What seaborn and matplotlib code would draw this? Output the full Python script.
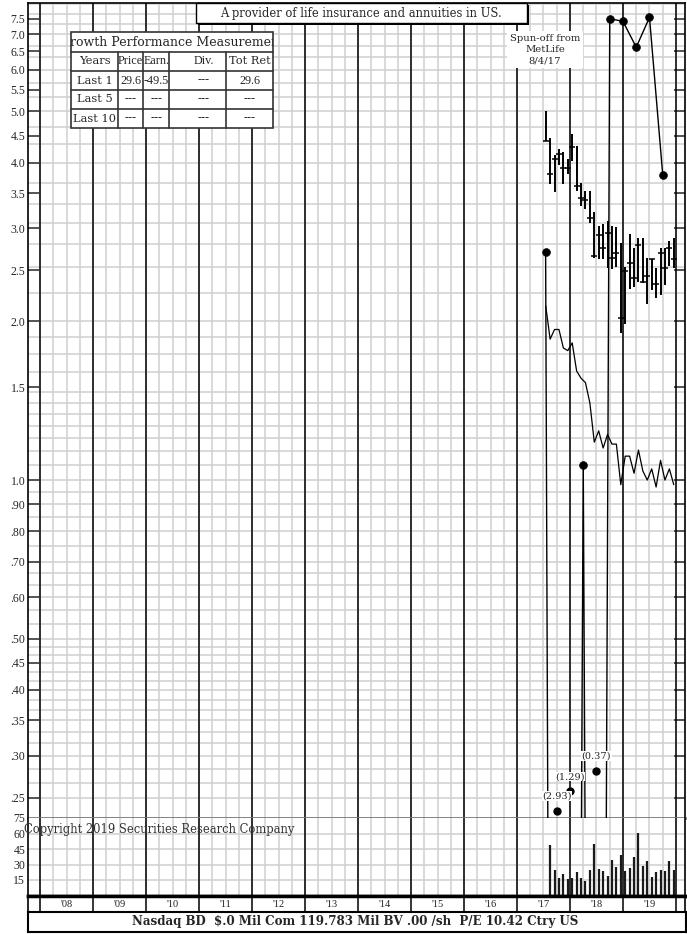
import numpy as np
import pandas as pd
import matplotlib
matplotlib.use("Agg")
import matplotlib.pyplot as plt
import seaborn as sns
from matplotlib.patches import Rectangle
from matplotlib.ticker import NullLocator, FixedLocator

sns.set_theme(style="white")
plt.rcParams["font.family"] = ["Liberation Serif", "DejaVu Serif"]
WIDE = "DejaVu Serif"   # wider serif for the letter-spaced notes

# monthly price bars, Jul 2017 .. Dec 2019
price_months = pd.period_range("2017-07", "2019-12", freq="M")
price_high = [5.01, 4.46, 4.13, 4.24, 4.19, 4.06, 4.53, 4.30, 3.66, 3.53,
              3.53, 3.23, 3.03, 3.06, 3.10, 3.03, 3.02, 2.81, 2.53, 2.93,
              2.75, 2.88, 2.88, 2.64, 2.63, 2.52, 2.76, 2.75, 2.84, 2.88]
price_low = [4.39, 3.65, 3.52, 3.96, 3.64, 3.81, 4.03, 3.53, 3.31, 3.27,
             3.07, 2.64, 2.63, 2.62, 2.52, 2.51, 2.54, 1.90, 1.98, 2.30,
             2.32, 2.37, 2.36, 2.16, 2.29, 2.21, 2.24, 2.34, 2.55, 2.52]
price_close = [4.40, 3.81, 4.06, 4.15, 3.91, 3.90, 4.28, 3.61, 3.42, 3.39,
               3.14, 2.66, 2.91, 2.76, 2.94, 2.64, 2.69, 2.03, 2.49, 2.58,
               2.42, 2.79, 2.37, 2.44, 2.62, 2.35, 2.70, 2.52, 2.75, 2.63]
rel_line = [2.14, 1.85, 1.93, 1.93, 1.78, 1.76, 1.82, 1.61, 1.56, 1.53,
            1.40, 1.18, 1.24, 1.15, 1.22, 1.17, 1.17, 0.98, 1.11, 1.11,
            1.03, 1.14, 1.04, 1.00, 1.05, 0.97, 1.09, 1.00, 1.05, 0.98]

# quarterly earnings (negative ones run off the bottom)
earn_x = [2017.54, 2017.75, 2018.0, 2018.25, 2018.5, 2018.75,
          2019.0, 2019.25, 2019.5, 2019.75]
earnings = [2.71, -2.93, -1.29, 1.07, -0.37, 7.50, 7.41, 6.62, 7.54, 3.79]

# monthly volume, Aug 2017 .. Dec 2019
vol_months = pd.period_range("2017-08", "2019-12", freq="M")
volume = [48.9, 24.4, 16.6, 20.5, 15.7, 17.2, 22.4, 17.2, 14.3, 24.7,
          49.6, 25.4, 23.7, 18.9, 34.4, 27.9, 39.2, 23.7, 26.3, 37.6,
          60.8, 28.8, 33.4, 17.9, 23.0, 24.7, 23.7, 33.4, 24.7]

ytick_vals = [7.5, 7.0, 6.5, 6.0, 5.5, 5.0, 4.5, 4.0, 3.5, 3.0, 2.5, 2.0, 1.5,
              1.0, 0.9, 0.8, 0.7, 0.6, 0.5, 0.45, 0.4, 0.35, 0.3, 0.25]
ytick_labels = ["7.5", "7.0", "6.5", "6.0", "5.5", "5.0", "4.5", "4.0", "3.5",
                "3.0", "2.5", "2.0", "1.5", "1.0", ".90", ".80", ".70", ".60",
                ".50", ".45", ".40", ".35", ".30", ".25"]
year_labels = ["'08", "'09", "'10", "'11", "'12", "'13", "'14", "'15", "'16",
               "'17", "'18", "'19"]
table_header = ["Years", "Price", "Earn.", "Div.", "Tot Ret"]
table_rows = [["Last 1", "29.6", "-49.5", "---", "29.6"],
              ["Last 5", "---", "---", "---", "---"],
              ["Last 10", "---", "---", "---", "---"]]


def dec_year(periods):
    return np.array([p.year + (p.month - 0.5) / 12 for p in periods])


def chart_grid():
    # SRC-style ratio grid: the step widens as the price rises
    parts = [(0.25, 0.5, 1 / 60), (0.5, 0.7, 1 / 30), (0.7, 1.0, 0.05),
             (1.0, 22 / 15, 1 / 15), (22 / 15, 2.0, 2 / 15),
             (2.0, 10 / 3, 4 / 15), (10 / 3, 8.0, 1 / 3)]
    vals = []
    for lo, hi, step in parts:
        n = int(round((hi - lo) / step))
        vals += [lo + k * step for k in range(n + 1)]
    return sorted(set(round(v, 5) for v in vals))


px = dec_year(price_months)
vx = dec_year(vol_months)

W, H = 687, 934
XMIN, XMAX = 2007.773, 2020.17
GRID = "#d0d0d0"


def rect(x0, y0, x1, y1):
    return [x0 / W, 1 - y1 / H, (x1 - x0) / W, (y1 - y0) / H]


fig = plt.figure(figsize=(W / 100, H / 100), dpi=100)
fig.patch.set_facecolor("white")

ax = fig.add_axes(rect(28, 3, 685, 818))
axv = fig.add_axes(rect(28, 818, 685, 895.5))
axy = fig.add_axes(rect(28, 895.5, 685, 912))
axb = fig.add_axes(rect(28, 912, 686, 932))

quarters = np.arange(2007.75, 2020.3, 0.25)
years = np.arange(2008, 2021)

# ---- price panel
ax.set_yscale("log")
ax.set_xlim(XMIN, XMAX)
ax.set_ylim(0.2286, 8.03)
for v in chart_grid():
    ax.axhline(v, color=GRID, lw=1.1, zorder=0)
for q in quarters:
    ax.axvline(q, color=GRID, lw=1.1, zorder=0)
for y in years:
    ax.axvline(y, color="black", lw=1.1, zorder=1)

ax.vlines(px, price_low, price_high, color="black", lw=1.4, zorder=3)
ax.plot(px, price_close, ls="none", marker="_", ms=5, mew=1.1,
        color="black", zorder=4)
sns.lineplot(x=px, y=rel_line, ax=ax, color="black", lw=0.9,
             estimator=None, sort=False, zorder=3)

earn = np.array(earnings)
earn_plot = np.where(earn > 0, earn, 1e-5)
ax.plot(earn_x, earn_plot, color="black", lw=1.0, zorder=3)
pos = earn > 0
sns.scatterplot(x=np.array(earn_x)[pos], y=earn[pos], ax=ax, color="black",
                s=32, edgecolor="black", zorder=5)

# labels for negative quarters near the bottom
neg_idx = np.where(~pos)[0]
neg_levels = [0.236, 0.257, 0.281]
for i, lv in zip(neg_idx, neg_levels):
    ax.plot(earn_x[i], lv, "o", color="black", ms=5, zorder=5)
    ax.text(earn_x[i], lv * 1.045, f"({abs(earn[i]):.2f})", ha="center",
            va="bottom", fontsize=7, family=WIDE, zorder=6,
            bbox=dict(facecolor="white", edgecolor="none", pad=0.3))

ax.text(2017.53, 6.55, "Spun-off from\nMetLife\n8/4/17", ha="center",
        va="center", fontsize=7.2, family=WIDE, linespacing=1.3, zorder=6,
        bbox=dict(facecolor="white", edgecolor="none", pad=2))

ax.yaxis.set_minor_locator(NullLocator())
ax.yaxis.set_major_locator(FixedLocator(ytick_vals))
ax.set_yticklabels(ytick_labels)
ax.set_xticks([])
ax.tick_params(axis="y", direction="in", length=8, width=1.4, color="#555555",
               left=True, right=True, labelsize=8.5, pad=2)
for s in ax.spines.values():
    s.set_color("black")
    s.set_linewidth(1.2)
ax.spines["bottom"].set_color("#777777")
ax.spines["bottom"].set_linewidth(2)

# ---- volume panel
axv.set_xlim(XMIN, XMAX)
axv.set_ylim(0, 75)
for v in [15, 30, 45, 60]:
    axv.axhline(v, color=GRID, lw=1.1, zorder=0)
for q in quarters:
    axv.axvline(q, color=GRID, lw=1.1, zorder=0)
for y in years:
    axv.axvline(y, color="black", lw=1.1, zorder=1)
axv.vlines(vx, 0, volume, color="#1a1a1a", lw=1.6, zorder=3)
axv.set_yticks([15, 30, 45, 60, 75])
axv.set_yticklabels(["15", "30", "45", "60", "75"])
axv.set_xticks([])
axv.tick_params(axis="y", direction="in", length=5, width=1, color="#555555",
                labelsize=8.5, pad=2)
for s in axv.spines.values():
    s.set_color("black")
    s.set_linewidth(1.2)
axv.spines["top"].set_visible(False)
axv.spines["bottom"].set_linewidth(2.5)

# ---- year band
axy.set_xlim(XMIN, XMAX)
axy.set_ylim(0, 1)
for y in years:
    axy.axvline(y, color="black", lw=1.1)
for i, lab in enumerate(year_labels):
    axy.text(2008.5 + i, 0.45, lab, ha="center", va="center", fontsize=7.5,
             color="#222222")
axy.set_xticks([])
axy.set_yticks([])
for s in axy.spines.values():
    s.set_color("black")
    s.set_linewidth(1.2)
axy.spines["top"].set_linewidth(2.5)

# ---- bottom info box
axb.set_xticks([])
axb.set_yticks([])
for s in axb.spines.values():
    s.set_color("black")
    s.set_linewidth(1.5)
axb.text(0.497, 0.5, "Nasdaq BD  $.0 Mil Com 119.783 Mil BV .00 /sh  P/E 10.42 Ctry US",
         transform=axb.transAxes, ha="center", va="center", fontsize=8.6,
         family=WIDE, fontweight="bold")

# ---- overlay in pixel coordinates for boxes and notes
ov = fig.add_axes([0, 0, 1, 1], zorder=10)
ov.set_xlim(0, W)
ov.set_ylim(H, 0)
ov.axis("off")
ov.patch.set_alpha(0)

ov.add_patch(Rectangle((198, 5), 331, 20, facecolor="black", edgecolor="none"))
ov.add_patch(Rectangle((196, 3), 331, 20, facecolor="white", edgecolor="black",
                       lw=1.0))
ov.text(361, 13.5, "A provider of life insurance and annuities in US.",
        ha="center", va="center", fontsize=8.3, family=WIDE)

# growth table
tx0, tx1 = 71, 273
col_lines = [118, 143, 169, 226]
col_text_x = [94.5, 130.5, 156.5, 204, 249.5]
row_edges = [32, 52, 71, 90, 109, 128]
ov.add_patch(Rectangle((tx0, 32), tx1 - tx0, 96, facecolor="white",
                       edgecolor="#333333", lw=1.2))
clip = Rectangle((tx0, 32), tx1 - tx0, 20, transform=ov.transData,
                 facecolor="none", edgecolor="none")
ov.add_patch(clip)
t = ov.text((tx0 + tx1) / 2, 42, "Growth Performance Measurement", ha="center",
            va="center", fontsize=9, family=WIDE, clip_on=True)
t.set_clip_path(clip)
for yy in row_edges[1:-1]:
    ov.plot([tx0, tx1], [yy, yy], color="#333333", lw=1.2)
for xx in col_lines:
    ov.plot([xx, xx], [52, 128], color="#333333", lw=1.2)
for r, row in enumerate([table_header] + table_rows):
    yc = (row_edges[r + 1] + row_edges[r + 2]) / 2
    for c, cell in enumerate(row):
        wide = c == 0 or cell == "Tot Ret"
        ov.text(col_text_x[c], yc, cell, ha="center", va="center",
                fontsize=8.2 if wide else 8.7,
                family=WIDE if wide else "Liberation Serif")

ov.text(24, 829, "Copyright 2019 Securities Research Company", ha="left",
        va="center", fontsize=8.3, family=WIDE, color="#333333")

fig.savefig("out.png", dpi=100, facecolor="white")
